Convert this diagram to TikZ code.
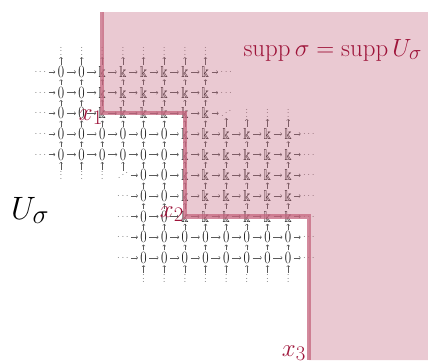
\documentclass[tikz,border=0pt]{standalone}
\usepackage{amsmath,amssymb}
\usepackage{graphicx}
\usetikzlibrary{arrows.meta}
\definecolor{regionc}{RGB}{196,100,125}
\definecolor{labred}{RGB}{158,20,58}
\definecolor{gridtxt}{RGB}{15,15,15}
\definecolor{arrgray}{RGB}{90,90,90}
\definecolor{dotgray}{RGB}{120,120,120}
\newcommand\zer{\scalebox{0.8}[1]{$0$}}
\newcommand\kk{\scalebox{0.8}[1]{$\Bbbk$}}
\newcommand\hdd{\hbox{.\kern1.6pt.\kern1.6pt.}}
\newcommand\vdd{\vbox{\baselineskip=3.6pt\lineskiplimit=-10pt\hbox{.}\hbox{.}\hbox{.}}}
\newcommand\idd{\hbox{.\kern1pt\raisebox{2.6pt}{.}\kern1pt\raisebox{5.2pt}{.}}}
\begin{document}
\begin{tikzpicture}[x=1pt,y=-1pt,
 lat/.style={inner sep=0.8pt, text=gridtxt, font=\fontsize{16}{16}\selectfont},
 dotn/.style={inner sep=0.6pt, text=dotgray, font=\fontsize{10}{10}\selectfont},
 harr/.style={draw=arrgray, line width=0.5pt, -{To[length=1.8pt,width=3.4pt]}, shorten >=1.6pt, shorten <=1.6pt},
 varr/.style={draw=arrgray, line width=0.5pt, -{To[length=1.8pt,width=3.4pt]}, shorten >=0.8pt, shorten <=0.8pt},
 border/.style={draw=regionc, draw opacity=0.75, line width=4.2pt},
 region/.style={fill=regionc, fill opacity=0.35},
 ptlabel/.style={text=labred, font=\fontsize{24.88}{25}\selectfont, inner sep=0pt},
]
\useasboundingbox (0,0) rectangle (428,360);
\begin{scope}[shift={(61,72)}, x=20.65pt, y=-20.65pt]
  % labelled lattice points
  \foreach \i in {0,1,2}{\foreach \j in {0,...,7}{
    \ifnum\j<2 \node[lat] (n-\i-\j) at (\j,\i) {\zer};\else \node[lat] (n-\i-\j) at (\j,\i) {\kk};\fi}}
  \foreach \i in {3,4}{\foreach \j in {0,...,11}{
    \ifnum\j<6 \node[lat] (n-\i-\j) at (\j,\i) {\zer};\else \node[lat] (n-\i-\j) at (\j,\i) {\kk};\fi}}
  \foreach \i in {5,6,7}{\foreach \j in {4,...,11}{
    \ifnum\j<6 \node[lat] (n-\i-\j) at (\j,\i) {\zer};\else \node[lat] (n-\i-\j) at (\j,\i) {\kk};\fi}}
  \foreach \i in {8,9}{\foreach \j in {4,...,11}{
    \node[lat] (n-\i-\j) at (\j,\i) {\zer};}}
  % dots
  \foreach \i in {0,...,4}{\node[dotn] (n-\i--1) at (-1,\i) {\hdd};}
  \foreach \i in {6,...,9}{\node[dotn] (n-\i-3) at (3,\i) {\hdd};}
  \foreach \i in {0,1}{\node[dotn] (n-\i-8) at (8,\i) {\hdd};}
  \foreach \i in {3,...,9}{\node[dotn] (n-\i-12) at (12,\i) {\hdd};}
  \node[dotn] (n-2-8) at (8,2) {\idd};
  \node[dotn] (n-5-3) at (3,5) {\idd};
  \foreach \j in {0,...,7}{\node[dotn] (n--1-\j) at (\j,-1) {\vdd};}
  \foreach \j in {9,10,11}{\node[dotn] (n-2-\j) at (\j,2) {\vdd};}
  \foreach \j in {0,1,2}{\node[dotn] (n-5-\j) at (\j,5) {\vdd};}
  \foreach \j in {4,...,11}{\node[dotn] (n-10-\j) at (\j,10) {\vdd};}
  % horizontal arrows
  \foreach \i in {0,1,2}{\foreach \j in {-1,...,7}{
    \pgfmathtruncatemacro\jn{\j+1}\draw[harr] (n-\i-\j) -- (n-\i-\jn);}}
  \foreach \i in {3,4}{\foreach \j in {-1,...,11}{
    \pgfmathtruncatemacro\jn{\j+1}\draw[harr] (n-\i-\j) -- (n-\i-\jn);}}
  \foreach \i in {5,...,9}{\foreach \j in {3,...,11}{
    \pgfmathtruncatemacro\jn{\j+1}\draw[harr] (n-\i-\j) -- (n-\i-\jn);}}
  % vertical arrows (upwards)
  \foreach \j in {0,...,3}{\foreach \i in {-1,...,4}{
    \pgfmathtruncatemacro\in{\i+1}\draw[varr] (n-\in-\j) -- (n-\i-\j);}}
  \foreach \j in {4,...,7}{\foreach \i in {-1,...,9}{
    \pgfmathtruncatemacro\in{\i+1}\draw[varr] (n-\in-\j) -- (n-\i-\j);}}
  \foreach \j in {8,...,11}{\foreach \i in {2,...,9}{
    \pgfmathtruncatemacro\in{\i+1}\draw[varr] (n-\in-\j) -- (n-\i-\j);}}
\end{scope}
% support region
\coordinate (c1) at (n-2-2.center);
\coordinate (c1b) at (n-2-6.center);
\coordinate (c2) at (n-7-6.center);
\coordinate (c2b) at (n-7-12.center);
\coordinate (top) at (c1 |- 0,12);
\coordinate (bot) at (c2b |- 0,360);
\fill[region] (top) -- (428,12) -- (428,360) -- (bot) -- (c2b) -- (c2) -- (c1b) -- (c1) -- cycle;
\draw[border] (top) -- (c1) -- (c1b) -- (c2) -- (c2b) -- (bot);
% labels
\node[ptlabel, anchor=base east] (lx1) at (103,120) {$x_1$};
\node[ptlabel, anchor=base east] (lx2) at (184,217) {$x_2$};
\node[ptlabel, anchor=base east] (lx3) at (306,356) {$x_3$};
\node[ptlabel, anchor=base east] (supp) at (422,56) {$\operatorname{supp}\sigma=\operatorname{supp}U_\sigma$};
\node[inner sep=0pt, font=\fontsize{24.88}{25}\selectfont, anchor=base west] (usig) at (11,219) {\scalebox{1.3}{$U_\sigma$}};
\end{tikzpicture}
\end{document}
